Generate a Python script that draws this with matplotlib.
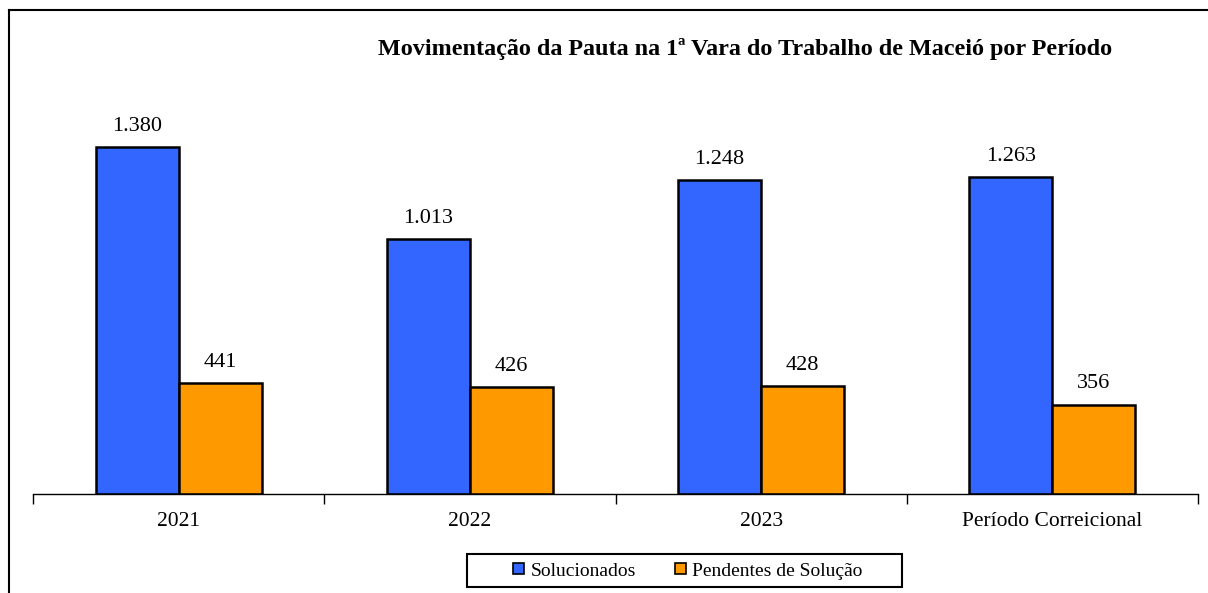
import matplotlib
matplotlib.use("Agg")
import matplotlib.pyplot as plt
from matplotlib.lines import Line2D
from matplotlib.patches import Patch, Rectangle
import numpy as np

categories = ["2021", "2022", "2023", "Período Correicional"]
solucionados = [1380, 1013, 1248, 1263]
pendentes = [441, 426, 428, 356]
labels_sol = ["1.380", "1.013", "1.248", "1.263"]
labels_pen = ["441", "426", "428", "356"]
series_names = ["Solucionados", "Pendentes de Solução"]
title = "Movimentação da Pauta na 1ª Vara do Trabalho de Maceió por Período"

plt.rcParams['font.family'] = ['Liberation Serif', 'DejaVu Serif']

W, H = 1208, 593
fig = plt.figure(figsize=(W / 100, H / 100), dpi=100)

# axes placement in pixels
left_px, right_px, base_px, top_px = 33, 1198, 494, 92
ax = fig.add_axes([left_px / W, 1 - base_px / H, (right_px - left_px) / W, (base_px - top_px) / H])

blue = "#3366FF"
orange = "#FF9900"
x = np.arange(len(categories))
w = 0.285
b1 = ax.bar(x - w / 2, solucionados, w, color=blue, edgecolor="black", linewidth=1.8, label=series_names[0])
b2 = ax.bar(x + w / 2, pendentes, w, color=orange, edgecolor="black", linewidth=1.8, label=series_names[1])

for bars, labs in ((b1, labels_sol), (b2, labels_pen)):
    for rect, lab in zip(bars, labs):
        ax.annotate(lab, (rect.get_x() + rect.get_width() / 2, rect.get_height()),
                    xytext=(0, 8), textcoords="offset points", ha="center", va="bottom", fontsize=16)

ax.set_xlim(-0.5, len(categories) - 0.5)
ax.set_ylim(0, 1600)
for s in ["top", "right", "left"]:
    ax.spines[s].set_visible(False)
ax.spines["bottom"].set_linewidth(1.0)
ax.set_yticks([])
ax.set_xticks(np.arange(len(categories) + 1) - 0.5)
ax.set_xticklabels([])
ax.set_xticks(x, minor=True)
ax.set_xticklabels(categories, minor=True, fontsize=15.5)
ax.tick_params(axis="x", which="major", direction="out", length=7, width=1.0)
ax.tick_params(axis="x", which="minor", length=0, pad=13)

fig.text(745 / W, 1 - 49 / H, title, ha="center", va="center", fontsize=17.4, fontweight="bold")

handles = [Patch(facecolor=blue, edgecolor="black", linewidth=1.2),
           Patch(facecolor=orange, edgecolor="black", linewidth=1.2)]
leg = fig.legend(handles, series_names, loc="center", bbox_to_anchor=(688 / W, 1 - 571 / H),
                 ncol=2, fontsize=14, frameon=False,
                 handlelength=0.55, handleheight=0.55, handletextpad=0.35, columnspacing=2.0,
                 borderpad=0.2)
fig.add_artist(Rectangle((467 / W, 1 - 587 / H), (902 - 467) / W, (587 - 554) / H,
                         transform=fig.transFigure, fill=False, edgecolor="black", linewidth=1.5))

# figure border (left and top only)
fig.add_artist(Line2D([9 / W, 9 / W], [0, 1 - 10 / H], color="black", linewidth=1.5, transform=fig.transFigure))
fig.add_artist(Line2D([9 / W, 1], [1 - 10 / H, 1 - 10 / H], color="black", linewidth=1.5, transform=fig.transFigure))

fig.savefig("out.png", dpi=100)
